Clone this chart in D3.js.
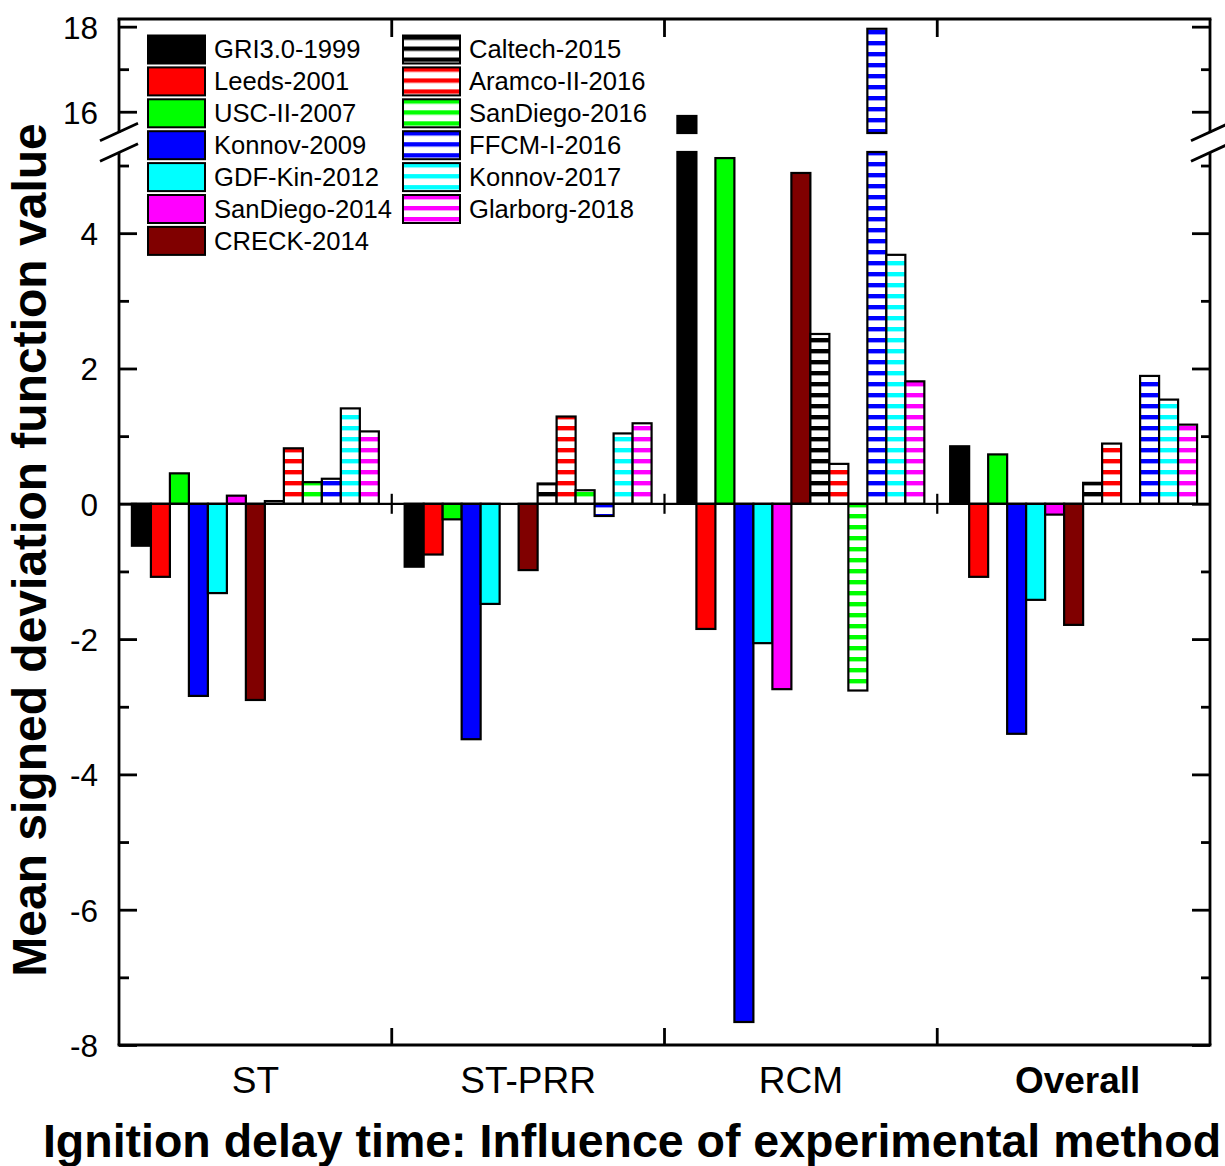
<!DOCTYPE html>
<html>
<head>
<meta charset="utf-8">
<script src="https://cdn.jsdelivr.net/npm/d3@7"></script>
<style>
  html, body { margin: 0; padding: 0; background: #fff; }
  svg { display: block; font-family: "Liberation Sans", Arial, sans-serif; }
</style>
</head>
<body>
<svg id="chart" width="1225" height="1166"></svg>
<script>
// Experimental methods (x groups)
const categories = ["ST", "ST-PRR", "RCM", "Overall"];

// Kinetic mechanisms (bars within each group)
const seriesNames = [
  "GRI3.0-1999", "Leeds-2001", "USC-II-2007", "Konnov-2009", "GDF-Kin-2012",
  "SanDiego-2014", "CRECK-2014", "Caltech-2015", "Aramco-II-2016",
  "SanDiego-2016", "FFCM-I-2016", "Konnov-2017", "Glarborg-2018"
];

// Mean signed deviation function value, one entry per mechanism
const stValues      = [-0.62, -1.08, 0.45, -2.84, -1.32, 0.12, -2.90, 0.04, 0.82, 0.32, 0.37, 1.41, 1.07];
const stPrrValues   = [-0.93, -0.75, -0.23, -3.48, -1.48, 0.00, -0.98, 0.30, 1.29, 0.20, -0.18, 1.04, 1.19];
const rcmValues     = [15.90, -1.85, 5.11, -7.66, -2.06, -2.74, 4.89, 2.51, 0.59, -2.76, 17.95, 3.68, 1.81];
const overallValues = [0.85, -1.08, 0.73, -3.40, -1.42, -0.16, -1.79, 0.31, 0.89, 0.00, 1.89, 1.54, 1.17];

// Axis ticks for the two segments of the broken y axis
const lowerMajorTicks = [-8, -6, -4, -2, 0, 2, 4];
const lowerMinorTicks = [-7, -5, -3, -1, 1, 3, 5];
const upperMajorTicks = [16, 18];
const upperMinorTicks = [17];

// Styling
const seriesColors = ["#000000", "#ff0000", "#00ff00", "#0000ff", "#00ffff", "#ff00ff", "#800000",
                      "#000000", "#ff0000", "#00ff00", "#0000ff", "#00ffff", "#ff00ff"];
const seriesHatched = [false, false, false, false, false, false, false, true, true, true, true, true, true];

const valuesByCategory = [stValues, stPrrValues, rcmValues, overallValues];
const data = categories.map((c, ci) => ({
  category: c,
  bars: seriesNames.map((s, si) => ({ series: si, value: valuesByCategory[ci][si] }))
}));

const svg = d3.select("#chart");
const plotLeft = 119, plotRight = 1210, plotTop = 19, plotBottom = 1045;
const breakLow = 152, breakHigh = 133;   // pixel ends of the two axis segments

const yLow = d3.scaleLinear().domain([-8, 5.2]).range([plotBottom, breakLow]);
const yHigh = d3.scaleLinear().domain([15.5, 18.18]).range([breakHigh, plotTop]);

const x0 = d3.scaleBand().domain(categories).range([plotLeft, plotRight]).paddingInner(0).paddingOuter(0);
const x1 = d3.scaleBand().domain(d3.range(seriesNames.length))
  .range([0, x0.bandwidth()]).paddingInner(0).paddingOuter(0.68);

// Horizontal stripe patterns for the hatched mechanisms
const defs = svg.append("defs");
const fillFor = i => seriesHatched[i] ? `url(#stripe-${i})` : seriesColors[i];
seriesNames.forEach((s, i) => {
  if (!seriesHatched[i]) return;
  const p = defs.append("pattern")
    .attr("id", `stripe-${i}`)
    .attr("patternUnits", "userSpaceOnUse")
    .attr("width", 10).attr("height", 11)
    .attr("y", 8);
  p.append("rect").attr("width", 10).attr("height", 11).attr("fill", "#fff");
  p.append("rect").attr("y", 0).attr("width", 10).attr("height", 4.4).attr("fill", seriesColors[i]);
});

// Bars: a bar is split into the pieces falling in each axis segment
const groups = svg.append("g").selectAll("g").data(data).join("g")
  .attr("transform", d => `translate(${x0(d.category)},0)`);

groups.selectAll("rect.low").data(d => d.bars).join("rect")
  .attr("class", "low")
  .attr("x", d => x1(d.series))
  .attr("width", x1.bandwidth())
  .attr("y", d => yLow(Math.max(0, Math.min(d.value, 5.2))))
  .attr("height", d => Math.abs(yLow(Math.max(-8, Math.min(d.value, 5.2))) - yLow(0)))
  .attr("fill", d => fillFor(d.series))
  .attr("stroke", "#000").attr("stroke-width", 2.2);

groups.selectAll("rect.high").data(d => d.bars.filter(b => b.value > 15.5)).join("rect")
  .attr("class", "high")
  .attr("x", d => x1(d.series))
  .attr("width", x1.bandwidth())
  .attr("y", d => yHigh(d.value))
  .attr("height", d => yHigh(15.5) - yHigh(d.value))
  .attr("fill", d => fillFor(d.series))
  .attr("stroke", "#000").attr("stroke-width", 2.2);

// Zero line with ticks at the group boundaries
const frame = svg.append("g").attr("stroke", "#000").attr("stroke-width", 2.8).attr("fill", "none");
const dividers = categories.slice(1).map(c => x0(c));
frame.append("line").attr("x1", plotLeft).attr("x2", plotRight).attr("y1", yLow(0)).attr("y2", yLow(0)).attr("stroke-width", 2.2);
dividers.forEach(xd => {
  frame.append("line").attr("x1", xd).attr("x2", xd).attr("y1", yLow(0) - 10).attr("y2", yLow(0) + 10).attr("stroke-width", 2.2);
  frame.append("line").attr("x1", xd).attr("x2", xd).attr("y1", plotTop).attr("y2", plotTop + 18);
  frame.append("line").attr("x1", xd).attr("x2", xd).attr("y1", plotBottom).attr("y2", plotBottom - 17);
});

// Frame lines (vertical sides interrupted at the break)
frame.append("line").attr("x1", plotLeft - 1.4).attr("x2", plotRight + 1.4).attr("y1", plotTop).attr("y2", plotTop);
frame.append("line").attr("x1", plotLeft - 1.4).attr("x2", plotRight + 1.4).attr("y1", plotBottom).attr("y2", plotBottom);
[plotLeft, plotRight].forEach(xa => {
  frame.append("line").attr("x1", xa).attr("x2", xa).attr("y1", plotTop).attr("y2", breakHigh);
  frame.append("line").attr("x1", xa).attr("x2", xa).attr("y1", breakLow).attr("y2", plotBottom);
});

// Break marks on both vertical axes
[plotLeft, plotRight].forEach(xa => {
  [breakHigh - 1, breakLow + 0.5].forEach(yb => {
    frame.append("line")
      .attr("x1", xa - 19).attr("y1", yb + 8.7)
      .attr("x2", xa + 19).attr("y2", yb - 8.7);
  });
});

// Y axes built with d3.axis, ticks pointing inward
function styleAxis(g) {
  g.select(".domain").remove();
  g.selectAll(".tick line").attr("stroke", "#000").attr("stroke-width", 2.8);
  g.selectAll(".tick text")
    .attr("fill", "#000")
    .attr("font-size", 31.5)
    .attr("font-family", "Liberation Sans, Arial, sans-serif");
}

const axes = svg.append("g");
[[yLow, lowerMajorTicks, lowerMinorTicks], [yHigh, upperMajorTicks, upperMinorTicks]].forEach(([sc, major, minor]) => {
  axes.append("g").attr("transform", `translate(${plotLeft},0)`)
    .call(d3.axisLeft(sc).tickValues(major).tickSize(-18).tickPadding(21).tickFormat(d => String(d)))
    .call(styleAxis);
  axes.append("g").attr("transform", `translate(${plotLeft},0)`)
    .call(d3.axisLeft(sc).tickValues(minor).tickSize(-10).tickFormat(""))
    .call(styleAxis);
  axes.append("g").attr("transform", `translate(${plotRight},0)`)
    .call(d3.axisRight(sc).tickValues(major).tickSize(-18).tickFormat(""))
    .call(styleAxis);
  axes.append("g").attr("transform", `translate(${plotRight},0)`)
    .call(d3.axisRight(sc).tickValues(minor).tickSize(-9).tickFormat(""))
    .call(styleAxis);
});
axes.selectAll(".tick text").attr("dy", "0.36em");

// Category labels along the bottom
const xAxis = svg.append("g").attr("transform", `translate(0,${plotBottom})`)
  .call(d3.axisBottom(x0).tickSize(0).tickPadding(0));
xAxis.select(".domain").remove();
xAxis.selectAll(".tick text")
  .attr("y", 48).attr("dy", 0)
  .attr("x", d => d === "Overall" ? 4 : 0)
  .attr("fill", "#000")
  .attr("font-size", 37)
  .attr("font-family", "Liberation Sans, Arial, sans-serif")
  .attr("font-weight", d => d === "Overall" ? "bold" : "normal");

// Axis titles
svg.append("text")
  .attr("x", 632).attr("y", 1157)
  .attr("text-anchor", "middle")
  .attr("font-size", 46.5).attr("font-weight", "bold")
  .text("Ignition delay time: Influence of experimental method");

svg.append("text")
  .attr("transform", "translate(46,550) rotate(-90)")
  .attr("text-anchor", "middle")
  .attr("font-size", 48).attr("font-weight", "bold")
  .text("Mean signed deviation function value");

// Legend in two columns
const legend = svg.append("g");
const legendRows = seriesNames.map((s, i) => ({
  name: s, i,
  col: i < 7 ? 0 : 1,
  row: i < 7 ? i : i - 7
}));
const colX = [148, 403];
const item = legend.selectAll("g").data(legendRows).join("g")
  .attr("transform", d => `translate(${colX[d.col]},${49.5 + d.row * 31.9})`);
item.append("rect")
  .attr("x", 0).attr("y", -14).attr("width", 57).attr("height", 28)
  .attr("fill", d => fillFor(d.i))
  .attr("stroke", "#000").attr("stroke-width", 2);
item.append("text")
  .attr("x", 66).attr("y", 8.8)
  .attr("font-size", 25.6)
  .attr("fill", "#000")
  .text(d => d.name);
</script>
</body>
</html>
